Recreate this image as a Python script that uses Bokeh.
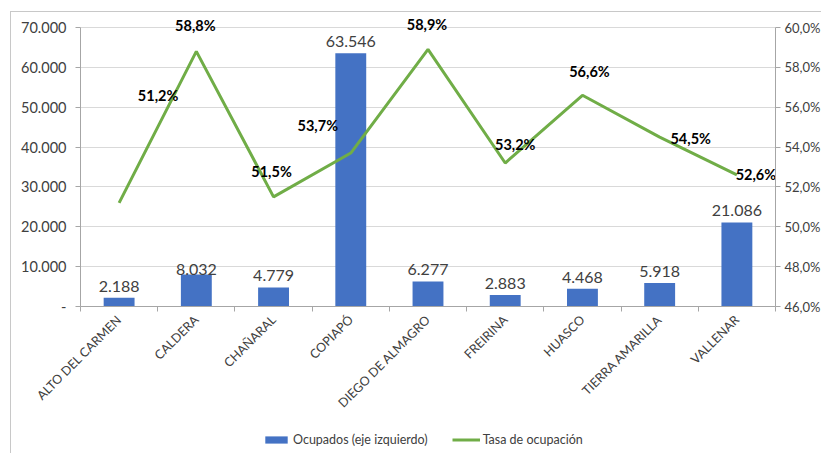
import math
from bokeh.plotting import figure
from bokeh.layouts import column
from bokeh.models import (Range1d, LinearAxis, FixedTicker, ColumnDataSource, Legend,
                          LegendItem, CustomJSTickFormatter)
from bokeh.core.properties import value
from bokeh.embed import file_html
from bokeh.resources import INLINE

comunas = ["ALTO DEL CARMEN", "CALDERA", "CHAÑARAL", "COPIAPÓ", "DIEGO DE ALMAGRO",
           "FREIRINA", "HUASCO", "TIERRA AMARILLA", "VALLENAR"]
ocupados = [2188, 8032, 4779, 63546, 6277, 2883, 4468, 5918, 21086]
tasa = [51.2, 58.8, 51.5, 53.7, 58.9, 53.2, 56.6, 54.5, 52.6]

ocupados_labels = ["2.188", "8.032", "4.779", "63.546", "6.277", "2.883", "4.468", "5.918", "21.086"]
tasa_labels = ["51,2%", "58,8%", "51,5%", "53,7%", "58,9%", "53,2%", "56,6%", "54,5%", "52,6%"]

left_ticks = [0, 10000, 20000, 30000, 40000, 50000, 60000, 70000]
left_tick_labels = ["-", "10.000", "20.000", "30.000", "40.000", "50.000", "60.000", "70.000"]
right_ticks = [46, 48, 50, 52, 54, 56, 58, 60]
right_tick_labels = ["46,0%", "48,0%", "50,0%", "52,0%", "54,0%", "56,0%", "58,0%", "60,0%"]

# label placement (pixel offsets, styling only; dy positive = down)
tasa_dx = [39, -1, -2, -33, -1, 10, 7, 31, 19]
tasa_dy = [-107, -26, -25, -28, -25, -19, -24, 1, 0]
bar_dy = [-6, 1, -6, -6, -6, -6, -6, -6, -6]

FONT = "Lato"
BLUE = "#4472C4"
GREEN = "#70AD47"
AXIS_GRAY = "#a6a6a6"
TXT = "#404040"

n = len(comunas)
xc = [i + 0.5 for i in range(n)]

# axis extents in data units; frame is a bit taller than the axes so top labels are not clipped
L_MIN, L_MAX = 0, 70000
R_MIN, R_MAX = 46, 60
AXIS_PX, FRAME_PX = 279, 292
y_top = L_MIN + (L_MAX - L_MIN) * FRAME_PX / AXIS_PX
r_top = R_MIN + (R_MAX - R_MIN) * FRAME_PX / AXIS_PX

LOOKUP = "const i = tk.indexOf(tick); return i >= 0 ? lb[i] : '';"

p = figure(width=810, height=411, frame_width=695, frame_height=FRAME_PX,
           x_range=Range1d(0, n), y_range=Range1d(L_MIN, y_top),
           output_backend="svg", toolbar_location=None,
           min_border_left=69, min_border_right=40, min_border_top=2, min_border_bottom=117)
p.extra_y_ranges = {"pct": Range1d(R_MIN, r_top)}
p.outline_line_color = None
p.background_fill_color = "white"
p.border_fill_color = "white"

# grid
p.xgrid.visible = False
p.ygrid.ticker = FixedTicker(ticks=left_ticks)
p.ygrid.grid_line_color = "#d9d9d9"
p.ygrid.grid_line_width = 1

# left axis
p.yaxis.ticker = FixedTicker(ticks=left_ticks)
p.yaxis.bounds = (L_MIN, L_MAX)
p.yaxis.formatter = CustomJSTickFormatter(args=dict(tk=left_ticks, lb=left_tick_labels), code=LOOKUP)
p.yaxis.axis_line_color = AXIS_GRAY
p.yaxis.major_tick_line_color = AXIS_GRAY
p.yaxis.major_tick_out = 5
p.yaxis.major_tick_in = 0
p.yaxis.minor_tick_line_color = None
p.yaxis.major_label_text_font = FONT
p.yaxis.major_label_text_font_size = "14.5px"
p.yaxis.major_label_text_color = TXT
p.yaxis.major_label_standoff = 9

# right axis
ra = LinearAxis(y_range_name="pct", ticker=FixedTicker(ticks=right_ticks), bounds=(R_MIN, R_MAX),
                formatter=CustomJSTickFormatter(args=dict(tk=right_ticks, lb=right_tick_labels), code=LOOKUP))
ra.axis_line_color = AXIS_GRAY
ra.major_tick_line_color = AXIS_GRAY
ra.major_tick_out = 5
ra.major_tick_in = 0
ra.minor_tick_line_color = None
ra.major_label_text_font = FONT
ra.major_label_text_font_size = "13px"
ra.major_label_text_color = TXT
ra.major_label_standoff = 4
p.add_layout(ra, "right")

# bottom axis with tick marks at category boundaries
p.xaxis.ticker = FixedTicker(ticks=list(range(n + 1)))
p.xaxis.formatter = CustomJSTickFormatter(code="return '';")
p.xaxis.major_label_text_font_size = "1px"
p.xaxis.major_label_standoff = 0
p.xaxis.axis_line_color = AXIS_GRAY
p.xaxis.major_tick_line_color = AXIS_GRAY
p.xaxis.major_tick_out = 5
p.xaxis.major_tick_in = 0
p.xaxis.minor_tick_line_color = None

# category label axis
xa = LinearAxis(ticker=FixedTicker(ticks=xc),
                formatter=CustomJSTickFormatter(args=dict(names=comunas),
                    code="return names[Math.floor(tick)] || '';"))
xa.axis_line_color = None
xa.major_tick_line_color = None
xa.minor_tick_line_color = None
xa.major_label_orientation = math.pi / 4
xa.major_label_standoff = 0
xa.major_label_text_font = FONT
xa.major_label_text_font_size = "12.5px"
xa.major_label_text_color = TXT
p.add_layout(xa, "below")

src = ColumnDataSource(dict(x=xc, ocupados=ocupados, tasa=tasa,
                            olab=ocupados_labels, tlab=tasa_labels,
                            tdx=tasa_dx, tdy=tasa_dy, bdy=bar_dy))

bars = p.vbar(x="x", top="ocupados", width=0.4, source=src, fill_color=BLUE, line_color=None)
line = p.line(x="x", y="tasa", source=src, y_range_name="pct", line_color=GREEN, line_width=3)

p.text(x="x", y="ocupados", text="olab", source=src, y_offset="bdy",
       text_align="center", text_baseline="bottom", text_font=value(FONT),
       text_font_size="16px", text_color=TXT)
p.text(x="x", y="tasa", text="tlab", source=src, y_range_name="pct",
       x_offset="tdx", y_offset="tdy", text_align="center", text_baseline="middle",
       text_font=value(FONT), text_font_size="14.5px", text_font_style="bold", text_color="black")

# legend strip (same series, kept outside its visible range so only the legend shows)
lg = figure(width=810, height=30, x_range=Range1d(0, n), y_range=Range1d(1e7, 2e7),
            output_backend="svg", toolbar_location=None,
            x_axis_location=None, y_axis_location=None,
            min_border_left=0, min_border_right=0, min_border_top=0, min_border_bottom=0)
lg.outline_line_color = None
lg.xgrid.visible = False
lg.ygrid.visible = False
lg_bar = lg.vbar(x="x", top="ocupados", width=0, source=src, fill_color=BLUE, line_color=None)
lg_line = lg.line(x="x", y="tasa", source=src, line_color=GREEN, line_width=3)

legend = Legend(items=[LegendItem(label="Ocupados (eje izquierdo)", renderers=[lg_bar]),
                       LegendItem(label="Tasa de ocupación", renderers=[lg_line])],
                orientation="horizontal", location=(182, 6))
legend.border_line_color = None
legend.background_fill_alpha = 0
legend.label_text_font = FONT
legend.label_text_font_size = "12.5px"
legend.label_text_color = TXT
legend.label_height = 14
legend.glyph_width = 28
legend.glyph_height = 9
legend.label_standoff = 3
legend.spacing = 24
legend.padding = 2
legend.margin = 0
lg.add_layout(legend, "center")

layout = column(p, lg, spacing=0)
layout.styles = {"margin-left": "10px", "margin-top": "11px",
                 "border-left": "1px solid #c8c8c8", "border-top": "1px solid #c8c8c8"}

open("out.html", "w").write(file_html(layout, INLINE))
